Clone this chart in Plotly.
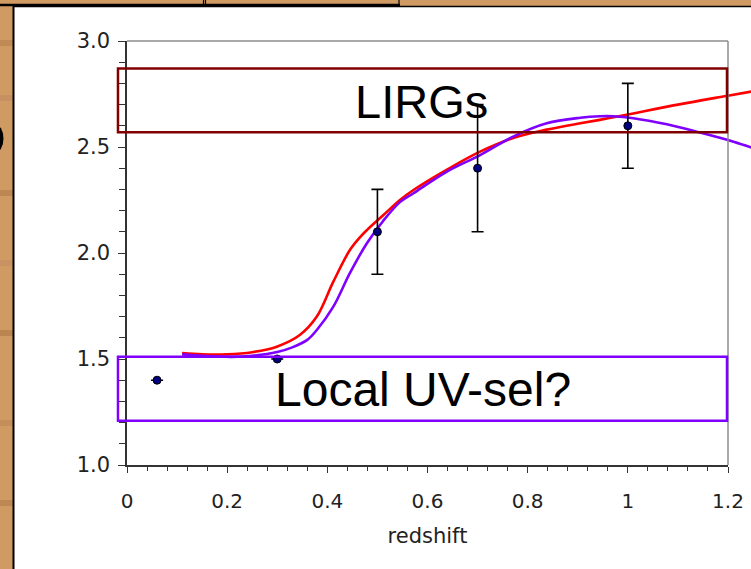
import plotly.graph_objects as go

# ---------------- data ----------------
obs_z = [0.06, 0.30, 0.50, 0.70, 1.00]
obs_val = [1.40, 1.50, 2.10, 2.40, 2.60]
obs_err = [0.0, 0.0, 0.20, 0.30, 0.20]

red_z = [0.11, 0.15, 0.20, 0.25, 0.299, 0.345, 0.379, 0.412, 0.445, 0.465, 0.479,
         0.512, 0.545, 0.572, 0.638, 0.705, 0.771, 0.838, 0.905, 0.944, 0.971,
         1.00, 1.10, 1.197, 1.25]
red_val = [1.528, 1.522, 1.522, 1.532, 1.558, 1.613, 1.700, 1.865, 2.014, 2.074, 2.108,
           2.179, 2.250, 2.297, 2.392, 2.478, 2.542, 2.582, 2.612, 2.628, 2.640,
           2.653, 2.700, 2.741, 2.763]

purple_z = [0.11, 0.15, 0.21, 0.25, 0.30, 0.33, 0.36, 0.379, 0.412, 0.445, 0.479,
            0.511, 0.545, 0.572, 0.638, 0.705, 0.771, 0.838, 0.905, 0.944, 0.971,
            1.011, 1.078, 1.144, 1.211, 1.25]
purple_val = [1.522, 1.515, 1.510, 1.515, 1.533, 1.555, 1.590, 1.637, 1.747, 1.905, 2.046,
              2.150, 2.240, 2.282, 2.383, 2.462, 2.549, 2.612, 2.638, 2.645, 2.645,
              2.636, 2.607, 2.568, 2.525, 2.495]

x_ticks = [0, 0.2, 0.4, 0.6, 0.8, 1.0, 1.2]
x_ticktext = ["0", "0.2", "0.4", "0.6", "0.8", "1", "1.2"]
y_ticks = [1.0, 1.5, 2.0, 2.5, 3.0]
y_ticktext = ["1.0", "1.5", "2.0", "2.5", "3.0"]

lirg_box = dict(z0=-0.018, z1=1.198, v0=2.569, v1=2.870)
uv_box = dict(z0=-0.018, z1=1.198, v0=1.209, v1=1.511)
lirg_label = "LIRGs"
uv_label = "Local UV-sel?"

# ---------------- geometry ----------------
W, H = 751, 569
ML, MR, MT, MB = 127, 0, 41, 104
PW = W - ML - MR           # paper width in px
PH = H - MT - MB           # paper height in px
AX_W = 601                 # px width of the axis box
XMAX, YMIN, YMAX = 1.2, 1.0, 3.0
xdom = AX_W / PW


def zx(z):   # data x -> paper x
    return z / XMAX * xdom


def vy(v):   # data y -> paper y
    return (v - YMIN) / (YMAX - YMIN)


def px(x):   # pixel -> paper x
    return (x - ML) / PW


def py(y):   # pixel -> paper y
    return (H - MB - y) / PH


fig = go.Figure()

# dummy trace so the main axes render
fig.add_trace(go.Scatter(x=[None], y=[None], xaxis="x", yaxis="y",
                         showlegend=False, hoverinfo="skip"))

fig.add_trace(go.Scatter(x=red_z, y=red_val, mode="lines", xaxis="x2", yaxis="y2",
                         line=dict(color="#FF0000", width=2.6, shape="spline", smoothing=1.0),
                         showlegend=False))
fig.add_trace(go.Scatter(x=purple_z, y=purple_val, mode="lines", xaxis="x2", yaxis="y2",
                         line=dict(color="#8000FF", width=2.6, shape="spline", smoothing=1.0),
                         showlegend=False))
fig.add_trace(go.Scatter(x=obs_z, y=obs_val, mode="markers", xaxis="x2", yaxis="y2",
                         marker=dict(color="#000080", size=8, line=dict(color="black", width=1)),
                         error_y=dict(type="data", array=obs_err, visible=True,
                                      color="black", thickness=1.6, width=6),
                         showlegend=False))

shapes = []
wood = "#D09A63"
# darker wood grain streaks on the left strip
for yy, col in [(40, "#C08A56"), (95, "#C69060"), (190, "#BD8753"), (260, "#C89262"),
                (330, "#BB8551"), (420, "#C48E5A"), (500, "#BE8854")]:
    shapes.append(dict(type="rect", xref="paper", yref="paper", layer="below",
                       x0=px(-5), x1=px(13), y0=py(yy + 6), y1=py(yy),
                       fillcolor=col, line=dict(width=0)))
# white panel
shapes.append(dict(type="rect", xref="paper", yref="paper", layer="below",
                   x0=px(14), x1=px(W + 5), y0=py(7), y1=py(H + 5),
                   fillcolor="white", line=dict(width=0)))
# panel borders (black)
shapes.append(dict(type="line", xref="paper", yref="paper",
                   x0=px(13.5), x1=px(13.5), y0=py(6), y1=py(H + 5),
                   line=dict(color="black", width=2)))
shapes.append(dict(type="line", xref="paper", yref="paper",
                   x0=px(13), x1=px(W + 5), y0=py(6.5), y1=py(6.5),
                   line=dict(color="black", width=1.5)))
# tabs at the top
shapes.append(dict(type="line", xref="paper", yref="paper",
                   x0=px(-5), x1=px(400), y0=py(5), y1=py(5),
                   line=dict(color="black", width=2.5)))
for xx in (203.5, 205.5, 399):
    shapes.append(dict(type="line", xref="paper", yref="paper",
                       x0=px(xx), x1=px(xx), y0=py(-5), y1=py(6),
                       line=dict(color="black", width=1.2)))
# cut-off dark glyph on the left edge
shapes.append(dict(type="circle", xref="paper", yref="paper",
                   x0=px(-14), x1=px(3.5), y0=py(124), y1=py(153),
                   fillcolor="black", line=dict(width=0)))

# gray top / right frame of the plot
shapes.append(dict(type="line", xref="paper", yref="paper",
                   x0=zx(0), x1=zx(XMAX), y0=1, y1=1,
                   line=dict(color="#8C8C8C", width=1.5)))
shapes.append(dict(type="line", xref="paper", yref="paper",
                   x0=zx(XMAX), x1=zx(XMAX), y0=0, y1=1,
                   line=dict(color="#8C8C8C", width=1.5)))

# labelled boxes
shapes.append(dict(type="rect", xref="paper", yref="paper",
                   x0=zx(lirg_box["z0"]), x1=zx(lirg_box["z1"]),
                   y0=vy(lirg_box["v0"]), y1=vy(lirg_box["v1"]),
                   line=dict(color="#800000", width=2.5)))
shapes.append(dict(type="rect", xref="paper", yref="paper",
                   x0=zx(uv_box["z0"]), x1=zx(uv_box["z1"]),
                   y0=vy(uv_box["v0"]), y1=vy(uv_box["v1"]),
                   line=dict(color="#8000FF", width=2.5)))

annotations = [
    dict(x=0.589, y=2.715, xref="x", yref="y", text=lirg_label, showarrow=False,
         font=dict(family="Liberation Sans, Arial", size=47, color="black")),
    dict(x=0.592, y=1.355, xref="x", yref="y", text=uv_label, showarrow=False,
         font=dict(family="Liberation Sans, Arial", size=48, color="black")),
]

xtickfont = dict(family="DejaVu Sans", size=20, color="#222222")
ytickfont = dict(family="DejaVu Sans", size=21, color="#222222")

fig.update_layout(
    width=W, height=H,
    margin=dict(l=ML, r=MR, t=MT, b=MB, pad=0, autoexpand=False),
    paper_bgcolor=wood,
    plot_bgcolor="rgba(0,0,0,0)",
    showlegend=False,
    shapes=shapes,
    annotations=annotations,
    xaxis=dict(domain=[0, xdom], range=[0, XMAX], anchor="y", automargin=False,
               tickmode="array", tickvals=x_ticks, ticktext=x_ticktext,
               ticks="outside", ticklen=6, tickwidth=1.2, tickcolor="#333333",
               minor=dict(dtick=0.04, ticks="outside", ticklen=4, tickwidth=1,
                          tickcolor="#333333", showgrid=False),
               showline=True, linecolor="#333333", linewidth=1.5,
               showgrid=False, zeroline=False, tickfont=xtickfont,
               ticklabelstandoff=11,
               title=dict(text="redshift", standoff=17,
                          font=dict(family="DejaVu Sans", size=21, color="#222222"))),
    yaxis=dict(domain=[0, 1], range=[YMIN, YMAX], anchor="x", automargin=False,
               tickmode="array", tickvals=y_ticks, ticktext=y_ticktext,
               ticks="outside", ticklen=7, tickwidth=1.2, tickcolor="#333333",
               minor=dict(dtick=0.1, ticks="outside", ticklen=6, tickwidth=1,
                          tickcolor="#333333", showgrid=False),
               showline=True, linecolor="#333333", linewidth=1.5,
               showgrid=False, zeroline=False, tickfont=ytickfont,
               ticklabelstandoff=4),
    xaxis2=dict(domain=[0, 1], range=[0, XMAX / xdom], anchor="y2", automargin=False,
                visible=False, showgrid=False, zeroline=False),
    yaxis2=dict(domain=[0, 1], range=[YMIN, YMAX], anchor="x2", automargin=False,
                visible=False, showgrid=False, zeroline=False),
)

fig.write_html("out.html")
